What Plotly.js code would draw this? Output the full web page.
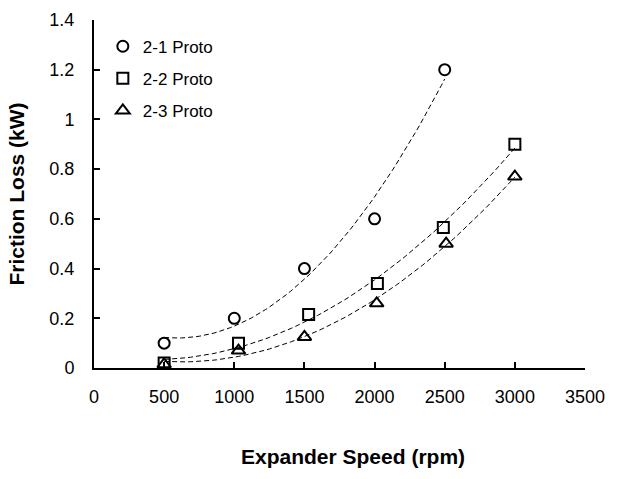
<!DOCTYPE html>
<html>
<head>
<meta charset="utf-8">
<script src="https://cdn.plot.ly/plotly-3.0.1.min.js"></script>
<style>html,body{margin:0;padding:0;background:#fff;}#chart{width:619px;height:479px;}</style>
</head>
<body>
<div id="chart"></div>
<script>
// Data
const seriesNames = ["2-1 Proto", "2-2 Proto", "2-3 Proto"];
const speed21 = [500, 1000, 1500, 2000, 2500];
const loss21  = [0.10, 0.20, 0.40, 0.60, 1.20];
const speed22 = [500, 1030, 1530, 2020, 2490, 3000];
const loss22  = [0.02, 0.10, 0.215, 0.34, 0.565, 0.90];
const speed23 = [500, 1030, 1500, 2015, 2510, 3000];
const loss23  = [0.015, 0.07, 0.125, 0.26, 0.50, 0.77];
const xTicks = [0, 500, 1000, 1500, 2000, 2500, 3000, 3500];
const yTicks = [0, 0.2, 0.4, 0.6, 0.8, 1, 1.2, 1.4];

// Second-order polynomial trendline (least squares), as in the original chart
function quadFit(xs, ys) {
  let S = [0,0,0,0,0], T = [0,0,0];
  for (let i = 0; i < xs.length; i++) {
    const x = xs[i], y = ys[i];
    let p = 1;
    for (let k = 0; k < 5; k++) { S[k] += p; if (k < 3) T[k] += p * y; p *= x; }
  }
  const A = [[S[0],S[1],S[2],T[0]],[S[1],S[2],S[3],T[1]],[S[2],S[3],S[4],T[2]]];
  for (let c = 0; c < 3; c++) {
    let piv = c;
    for (let r = c+1; r < 3; r++) if (Math.abs(A[r][c]) > Math.abs(A[piv][c])) piv = r;
    [A[c], A[piv]] = [A[piv], A[c]];
    for (let r = 0; r < 3; r++) if (r !== c) {
      const f = A[r][c] / A[c][c];
      for (let k = c; k < 4; k++) A[r][k] -= f * A[c][k];
    }
  }
  return [A[0][3]/A[0][0], A[1][3]/A[1][1], A[2][3]/A[2][2]];
}
function trend(xs, ys) {
  const c = quadFit(xs, ys);
  const x0 = Math.min(...xs), x1 = Math.max(...xs);
  const tx = [], ty = [];
  const n = 80;
  for (let i = 0; i <= n; i++) {
    const x = x0 + (x1 - x0) * i / n;
    tx.push(x); ty.push(c[0] + c[1]*x + c[2]*x*x);
  }
  return {x: tx, y: ty};
}

const font = "Liberation Sans, Arial, sans-serif";
const symbols = ["circle-open", "square-open", "triangle-up-open"];
const sets = [[speed21, loss21], [speed22, loss22], [speed23, loss23]];
const traces = [];
sets.forEach((s, i) => {
  const t = trend(s[0], s[1]);
  traces.push({
    x: t.x, y: t.y, mode: "lines", showlegend: false, hoverinfo: "skip",
    line: {color: "#000", width: 1, dash: "5px,3px"}
  });
});
sets.forEach((s, i) => {
  traces.push({
    x: s[0], y: s[1], mode: "markers", name: seriesNames[i], legendgroup: "g" + i,
    marker: {symbol: symbols[i], size: i === 2 ? 12 : 11, color: "#000", line: {color: "#000", width: 2}}
  });
});

const layout = {
  width: 619, height: 479,
  margin: {l: 94, r: 34, t: 20, b: 111},
  paper_bgcolor: "#fff", plot_bgcolor: "#fff",
  font: {family: font, color: "#000", size: 18},
  showlegend: true,
  legend: {
    x: 0.018, xanchor: "left", y: 0.975, yanchor: "top",
    bgcolor: "rgba(0,0,0,0)", font: {size: 17, family: font, color: "#000"},
    tracegroupgap: 7, traceorder: "grouped"
  },
  xaxis: {
    range: [0, 3500], tickvals: xTicks, ticktext: xTicks.map(String),
    showline: true, linecolor: "#000", linewidth: 2, mirror: false,
    ticks: "inside", ticklen: 6, tickwidth: 2, tickcolor: "#000",
    showgrid: false, zeroline: false, ticklabelstandoff: 11,
    tickfont: {size: 18, family: font, color: "#000"}
  },
  yaxis: {
    range: [0, 1.4], tickvals: yTicks, ticktext: yTicks.map(String),
    showline: true, linecolor: "#000", linewidth: 2, mirror: false,
    ticks: "inside", ticklen: 6, tickwidth: 2, tickcolor: "#000",
    showgrid: false, zeroline: false, ticklabelstandoff: 14,
    tickfont: {size: 18, family: font, color: "#000"},
    title: {text: "<b>Friction Loss (kW)</b>", font: {size: 21, family: font, color: "#000"}, standoff: 19}
  },
  annotations: [{
    text: "<b>Expander Speed (rpm)</b>", xref: "paper", yref: "paper",
    x: 0.5275, y: -0.2529, xanchor: "center", yanchor: "middle", showarrow: false,
    font: {size: 21, family: font, color: "#000"}
  }]
};

Plotly.newPlot("chart", traces, layout, {displayModeBar: false, staticPlot: true});
</script>
</body>
</html>
